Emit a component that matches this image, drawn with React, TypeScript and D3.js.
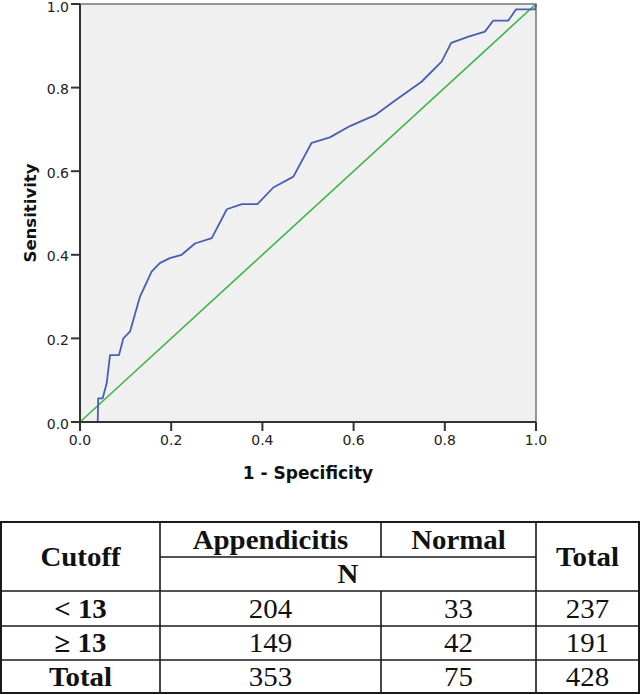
import React from "react";
import * as d3 from "d3";

// ROC curve (1 - specificity, sensitivity)
const fprValues = [0, 0.0388, 0.040, 0.0497, 0.0585, 0.0658, 0.0855, 0.095, 0.1096, 0.1316, 0.157, 0.175, 0.197, 0.223, 0.252, 0.289, 0.322, 0.355, 0.389, 0.424, 0.468, 0.508, 0.548, 0.592, 0.647, 0.691, 0.749, 0.793, 0.814, 0.852, 0.888, 0.906, 0.939, 0.956, 0.998, 1];
const sensValues = [0, 0, 0.0567, 0.0567, 0.0925, 0.160, 0.160, 0.200, 0.216, 0.300, 0.360, 0.380, 0.392, 0.400, 0.427, 0.440, 0.509, 0.521, 0.521, 0.561, 0.587, 0.668, 0.681, 0.708, 0.734, 0.769, 0.814, 0.862, 0.907, 0.922, 0.934, 0.960, 0.960, 0.987, 0.987, 1];
const refX = [0, 1];
const refY = [0, 1];
const tickValues = [0, 0.2, 0.4, 0.6, 0.8, 1.0];

// Table
const headerCols = ["Appendicitis", "Normal"];
const rowLabels = ["< 13", "\u2265 13", "Total"];
const appendicitisN = [204, 149, 353];
const normalN = [33, 42, 75];
const totalN = [237, 191, 428];

const W = 641;
const H = 695;
const plot = { left: 80, right: 536, top: 4, bottom: 422 };

function Cell({ x, y, bold, children }: { x: number; y: number; bold?: boolean; children: React.ReactNode }) {
  return (
    <text transform={`translate(${x},${y}) scale(1.07,1)`} dy="0.34em" fontWeight={bold ? "bold" : "normal"}>
      {children}
    </text>
  );
}

export default function App() {
  const x = d3.scaleLinear().domain([0, 1]).range([plot.left, plot.right]);
  const y = d3.scaleLinear().domain([0, 1]).range([plot.bottom, plot.top]);
  const line = d3
    .line<[number, number]>()
    .x((d) => x(d[0]))
    .y((d) => y(d[1]));
  const roc = line(fprValues.map((f, i) => [f, sensValues[i]] as [number, number])) || "";
  const ref = line(refX.map((f, i) => [f, refY[i]] as [number, number])) || "";
  const fmt = d3.format(".1f");

  // table geometry
  const colX = [1, 160, 381, 536, 639];
  const rowY = [522, 557, 591, 626, 660, 693];
  const tc = "#1a1a1a";
  const serif = "'Liberation Serif', serif";
  const sans = "'DejaVu Sans', sans-serif";
  const cx = (i: number) => (colX[i] + colX[i + 1]) / 2;
  const cy = (i: number) => (rowY[i] + rowY[i + 1]) / 2;

  return (
    <svg width={W} height={H} style={{ position: "absolute", left: 0, top: 0, background: "#fff" }}>
      <rect x={plot.left} y={plot.top} width={plot.right - plot.left} height={plot.bottom - plot.top} fill="#f0f0f0" stroke="#555" strokeWidth={1.2} />
      <path d={ref} fill="none" stroke="#41b549" strokeWidth={1.6} />
      <path d={roc} fill="none" stroke="#4a5fb0" strokeWidth={1.8} strokeLinejoin="round" />
      {/* axes */}
      <line x1={plot.left} x2={plot.left} y1={plot.top} y2={plot.bottom + 1} stroke="#333" strokeWidth={2} />
      <line x1={plot.left - 1} x2={plot.right} y1={plot.bottom} y2={plot.bottom} stroke="#333" strokeWidth={2} />
      {tickValues.map((t) => (
        <g key={"y" + t}>
          <line x1={plot.left - 9} x2={plot.left} y1={y(t)} y2={y(t)} stroke="#333" strokeWidth={2} />
          <text x={plot.left - 11} y={Math.max(y(t) + 1.5, 7)} dy="0.36em" textAnchor="end" fontFamily={sans} fontSize={14} fill="#222">
            {fmt(t)}
          </text>
        </g>
      ))}
      {tickValues.map((t) => (
        <g key={"x" + t}>
          <line x1={x(t)} x2={x(t)} y1={plot.bottom} y2={plot.bottom + 9} stroke="#333" strokeWidth={2} />
          <text x={x(t)} y={plot.bottom + 23} textAnchor="middle" fontFamily={sans} fontSize={14} fill="#222">
            {fmt(t)}
          </text>
        </g>
      ))}
      <text x={(plot.left + plot.right) / 2} y={479} textAnchor="middle" fontFamily={sans} fontWeight="bold" fontSize={17} fill="#111">
        1 - Specificity
      </text>
      <text transform={`translate(36,${(plot.top + plot.bottom) / 2}) rotate(-90)`} textAnchor="middle" fontFamily={sans} fontWeight="bold" fontSize={16.5} fill="#111">
        Sensitivity
      </text>

      {/* table */}
      <g stroke={tc} strokeWidth={1.6}>
        <rect x={colX[0]} y={rowY[0]} width={colX[4] - colX[0]} height={rowY[5] - rowY[0]} fill="none" strokeWidth={2} />
        <line x1={colX[1]} x2={colX[1]} y1={rowY[0]} y2={rowY[5]} />
        <line x1={colX[3]} x2={colX[3]} y1={rowY[0]} y2={rowY[5]} />
        <line x1={colX[2]} x2={colX[2]} y1={rowY[0]} y2={rowY[1]} />
        <line x1={colX[2]} x2={colX[2]} y1={rowY[2]} y2={rowY[5]} />
        <line x1={colX[1]} x2={colX[3]} y1={rowY[1]} y2={rowY[1]} />
        {[2, 3, 4].map((r) => (
          <line key={r} x1={colX[0]} x2={colX[4]} y1={rowY[r]} y2={rowY[r]} />
        ))}
      </g>
      <g fontFamily={serif} fontSize={27} fill="#111" textAnchor="middle">
        <Cell x={cx(0)} y={(rowY[0] + rowY[2]) / 2} bold>Cutoff</Cell>
        {headerCols.map((h, i) => (
          <Cell key={h} x={cx(i + 1)} y={cy(0)} bold>{h}</Cell>
        ))}
        <Cell x={(colX[1] + colX[3]) / 2} y={cy(1)} bold>N</Cell>
        <Cell x={cx(3)} y={(rowY[0] + rowY[2]) / 2} bold>Total</Cell>
        {rowLabels.map((r, i) => (
          <g key={r}>
            <Cell x={cx(0)} y={cy(i + 2)} bold>{r}</Cell>
            <Cell x={cx(1)} y={cy(i + 2)}>{appendicitisN[i]}</Cell>
            <Cell x={cx(2)} y={cy(i + 2)}>{normalN[i]}</Cell>
            <Cell x={cx(3)} y={cy(i + 2)}>{totalN[i]}</Cell>
          </g>
        ))}
      </g>
    </svg>
  );
}
